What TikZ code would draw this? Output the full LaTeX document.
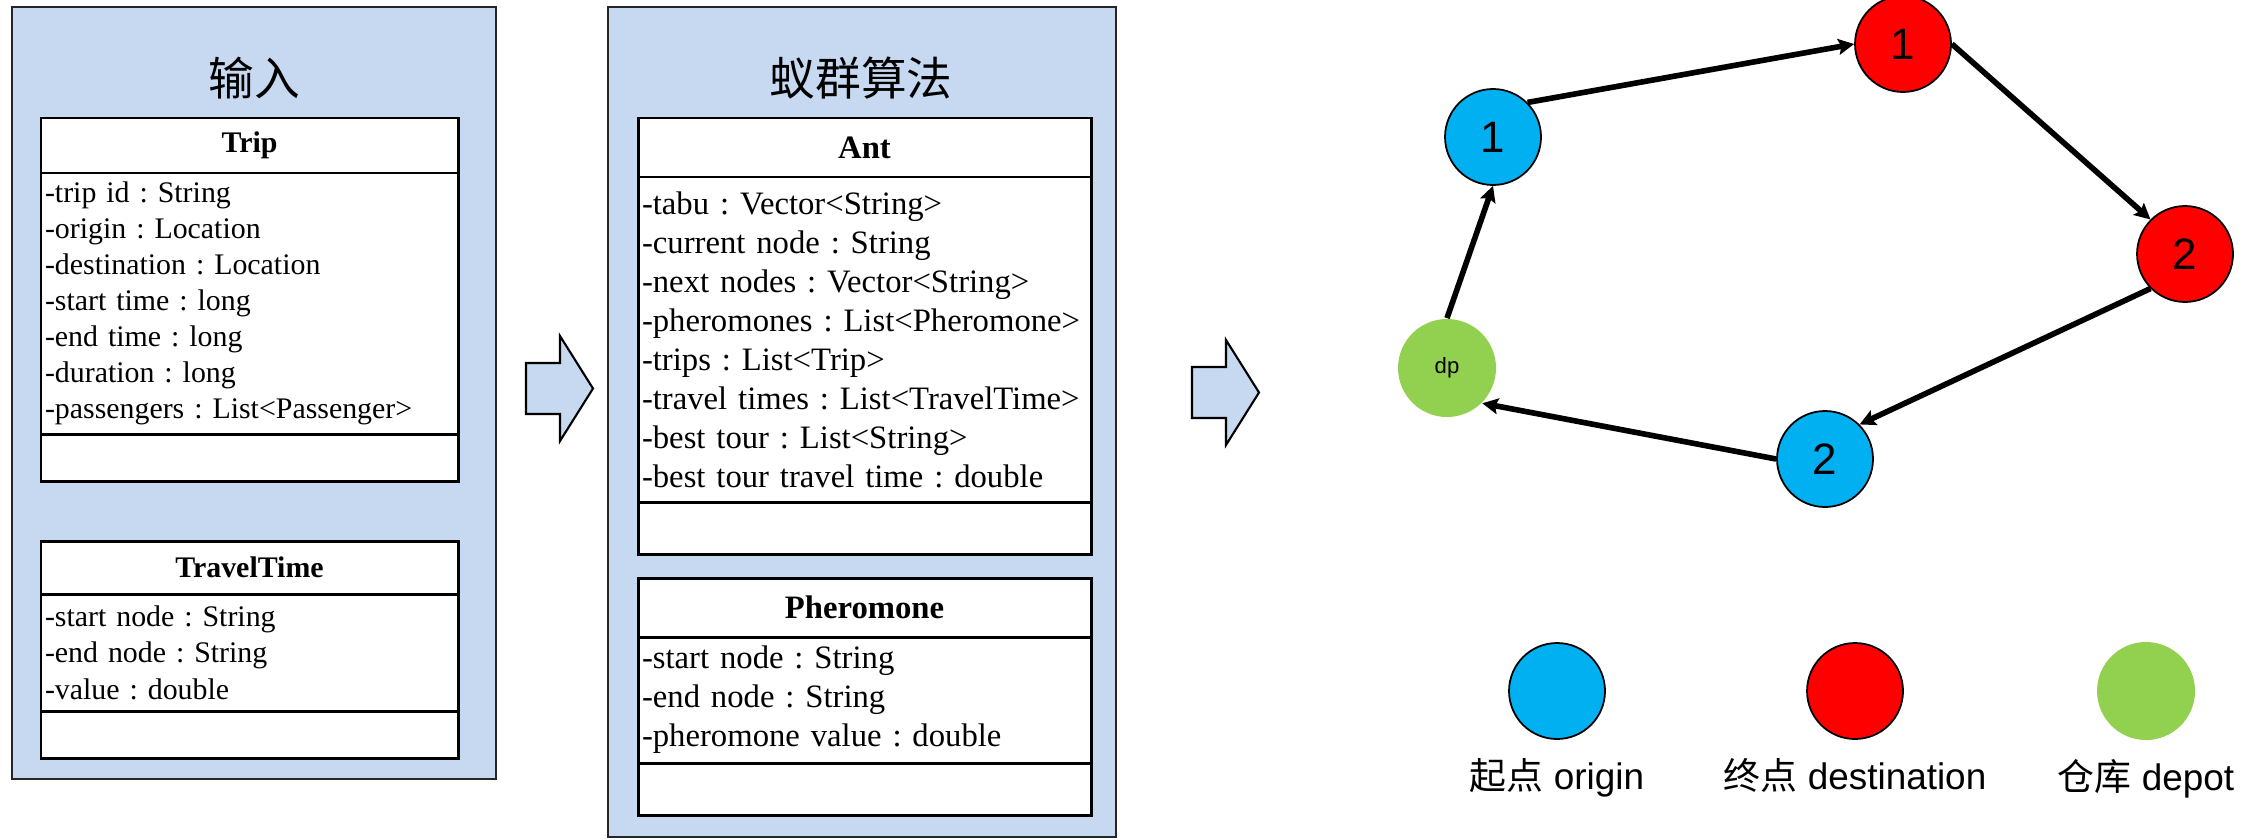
\documentclass[tikz,border=0pt]{standalone}
\usepackage{fontspec}
\setmainfont{Liberation Serif}
\newfontfamily\cjk{Noto Sans CJK SC}
\newfontfamily\arialfont{Liberation Sans}
\usepackage{xcolor}
\usetikzlibrary{positioning}
\usetikzlibrary{arrows.meta}
\definecolor{panelblue}{RGB}{198,217,240}
\definecolor{oblue}{RGB}{0,176,240}
\definecolor{dred}{RGB}{255,0,0}
\definecolor{dgreen}{RGB}{146,208,80}

\begin{document}
\frenchspacing
\begin{tikzpicture}
        % ================= 样式定义 =================
        \tikzset{
            % 浅蓝色外框
            panel/.style={draw=black!85, line width=0.6pt, fill=panelblue},
            % 外框标题 (中文)
            paneltitle/.style={font=\cjk\fontsize{13}{15}\selectfont, inner sep=0pt},
            % 类图三栏: 类名 / 属性 / 方法
            clshead/.style={draw=black, line width=0.85pt, fill=white, inner sep=0pt, outer sep=0pt},
            clsattr/.style={draw=black, line width=0.85pt, fill=white, inner xsep=0.04cm, inner ysep=0pt, outer sep=0pt, align=left},
            clsops/.style={draw=black, line width=0.85pt, fill=white, inner sep=0pt, outer sep=0pt},
            % 空心粗箭头
            bigarrow/.style={draw=black, line width=0.6pt, fill=panelblue, line join=miter},
            % 路线图节点
            vnode/.style={circle, draw=black, line width=0.5pt, minimum size=0.96cm, inner sep=0pt, font=\arialfont\fontsize{12.5}{14}\selectfont},
            originnode/.style={vnode, fill=oblue},
            destnode/.style={vnode, fill=dred},
            depotnode/.style={vnode, draw=none, fill=dgreen, minimum size=0.98cm, font=\arialfont\fontsize{6.3}{7}\selectfont},
            % 路线箭头
            route/.style={line width=1.6pt, -{Stealth[length=4.5pt, width=4.5pt, inset=0.8pt]}},
            legtext/.style={font=\arialfont\fontsize{10.5}{12}\selectfont, inner sep=0pt}
        }

        \useasboundingbox (0,0) rectangle (22.61,8.39);

        % ================= 左框:输入 =================
        \draw[panel] (0.12,0.60) rectangle (4.96,8.32);
        \node[paneltitle] (intitle) at (2.54,7.61) {输入};

        % Trip 类
        \node[clshead, anchor=north west, minimum width=4.17cm, minimum height=0.55cm,
              font=\bfseries\fontsize{8.5}{10.25}\selectfont] (trip) at (0.41,7.21) {Trip};
        \node[clsattr, below=0pt of trip, text width=4.09cm, minimum height=2.61cm,
              font=\fontsize{8.5}{10.25}\selectfont] (tripattr) {-trip id : String\\
              -origin : Location\\ -destination : Location\\ -start time : long\\
              -end time : long\\ -duration : long\\ -passengers : List<Passenger>};
        \node[clsops, below=0pt of tripattr, minimum width=4.17cm, minimum height=0.47cm] (tripops) {};

        % TravelTime 类
        \node[clshead, anchor=north west, minimum width=4.17cm, minimum height=0.53cm,
              font=\bfseries\fontsize{8.5}{10.25}\selectfont] (tt) at (0.41,2.98) {TravelTime};
        \node[clsattr, below=0pt of tt, text width=4.09cm, minimum height=1.17cm,
              font=\fontsize{8.5}{10.4}\selectfont] (ttattr) {-start node : String\\
              -end node : String\\ -value : double};
        \node[clsops, below=0pt of ttattr, minimum width=4.17cm, minimum height=0.47cm] (ttops) {};

        % ================= 空心箭头 =================
        \foreach \ax/\ay in {5.26/4.25, 11.92/4.21} {
            \draw[bigarrow, shift={(\ax,\ay)}] (0,0) -- (0,0.51) -- (0.34,0.51) -- (0.34,0.78)
                -- (0.67,0.255) -- (0.34,-0.27) -- (0.34,0) -- cycle;
        }

        % ================= 中框:蚁群算法 =================
        \draw[panel] (6.08,0.02) rectangle (11.16,8.32);
        \node[paneltitle] (acotitle) at (8.61,7.61) {蚁群算法};

        % Ant 类
        \node[clshead, anchor=north west, minimum width=4.53cm, minimum height=0.59cm,
              font=\bfseries\fontsize{9.3}{11.1}\selectfont] (ant) at (6.38,7.21) {Ant};
        \node[clsattr, below=0pt of ant, text width=4.45cm, minimum height=3.25cm,
              font=\fontsize{9.3}{11.1}\selectfont] (antattr) {-tabu : Vector<String>\\
              -current node : String\\ -next nodes : Vector<String>\\
              -pheromones : List<Pheromone>\\ -trips : List<Trip>\\
              -travel times : List<TravelTime>\\ -best tour : List<String>\\
              -best tour travel time : double};
        \node[clsops, below=0pt of antattr, minimum width=4.53cm, minimum height=0.52cm] (antops) {};

        % Pheromone 类
        \node[clshead, anchor=north west, minimum width=4.53cm, minimum height=0.59cm,
              font=\bfseries\fontsize{9.3}{11.1}\selectfont] (pher) at (6.38,2.61) {Pheromone};
        \node[clsattr, below=0pt of pher, text width=4.45cm, minimum height=1.26cm,
              font=\fontsize{9.3}{11.1}\selectfont] (pherattr) {-start node : String\\
              -end node : String\\ -pheromone value : double};
        \node[clsops, below=0pt of pherattr, minimum width=4.53cm, minimum height=0.52cm] (pherops) {};

        % ================= 右图:路线 =================
        \node[originnode] (o1) at (14.93,7.02) {1};
        \node[destnode]   (d1) at (19.03,7.95) {1};
        \node[destnode]   (d2) at (21.85,5.85) {2};
        \node[originnode] (o2) at (18.25,3.80) {2};
        \node[depotnode]  (dp) at (14.47,4.71) {dp};

        \draw[route] (dp.north) -- (o1.south);
        \draw[route] (o1.north east) -- (d1.west);
        \draw[route] (d1.east) -- (d2.north west);
        \draw[route] (d2.south west) -- (o2.north east);
        \draw[route] (o2.west) -- (dp.south east);

        % 图例
        \foreach \nm/\sty/\xx/\txt in {lgo/originnode/15.57/{{\cjk 起点} origin},
                                       lgd/destnode/18.55/{{\cjk 终点} destination},
                                       lgp/depotnode/21.46/{{\cjk 仓库} depot}} {
            \node[\sty] (\nm) at (\xx,1.48) {};
            \node[legtext, below=0.18cm of \nm] (\nm text) {\txt};
        }

\end{tikzpicture}
\end{document}
